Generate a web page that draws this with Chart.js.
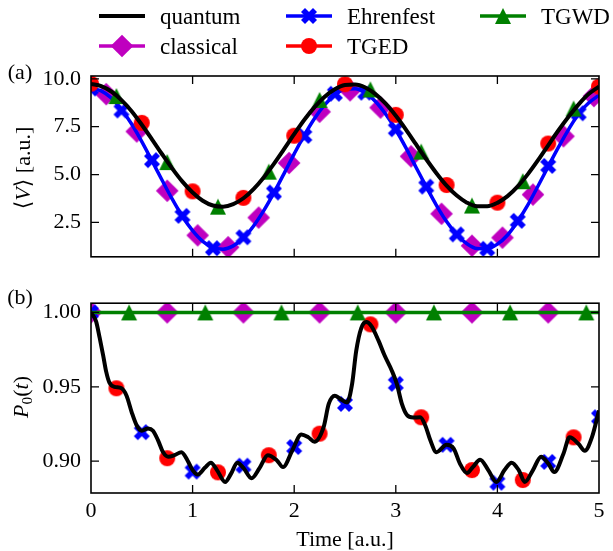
<!DOCTYPE html>
<html>
<head>
<meta charset="utf-8">
<script src="https://cdn.jsdelivr.net/npm/chart.js@4.4.0/dist/chart.umd.min.js"></script>
<style>
  body { margin: 0; background: #fff; }
  #wrap { position: relative; width: 613px; height: 551px; font-family: 'Liberation Serif', 'DejaVu Serif', serif; font-size: 22px; color: #000; }
  canvas.plot { position: absolute; left: 0; }
  .txt { position: absolute; white-space: nowrap; line-height: 1; transform: translate(-50%, -50%); }
  .ylab { position: absolute; white-space: nowrap; line-height: 1; transform: translate(-50%, -50%) rotate(-90deg); }
  .ylab sub { font-size: 70%; vertical-align: -0.25em; }
  .leg { position: absolute; display: flex; align-items: center; height: 24px; white-space: nowrap; line-height: 1; font-size: 23px; }
  .leg canvas { margin-right: 15px; }
</style>
</head>
<body>
<div id="wrap">
  <canvas id="topChart" class="plot" width="613" height="280" style="top:0"></canvas>
  <canvas id="bottomChart" class="plot" width="613" height="271" style="top:280px"></canvas>
  <div id="legend"></div>
  <div class="txt" style="left:20px; top:72px">(a)</div>
  <div class="txt" style="left:20px; top:297px">(b)</div>
  <div class="ylab" style="left:23px; top:168px">⟨<i>V</i>⟩ [a.u.]</div>
  <div class="ylab" style="left:22px; top:397px"><i>P</i><sub>0</sub>(<i>t</i>)</div>
</div>
<script>
// ---- data ----
const timeTicks = [0, 1, 2, 3, 4, 5];
const topYTicks = [2.5, 5.0, 7.5, 10.0];
const bottomYTicks = [0.90, 0.95, 1.00];

// panel (a): <V>
const timeTop = [0.0, 0.1, 0.2, 0.3, 0.4, 0.5, 0.6, 0.7, 0.8, 0.9, 1.0, 1.1, 1.2, 1.3, 1.4, 1.5, 1.6, 1.7,
  1.8, 1.9, 2.0, 2.1, 2.2, 2.3, 2.4, 2.5, 2.6, 2.7, 2.8, 2.9, 3.0, 3.1, 3.2, 3.3, 3.4, 3.5, 3.6, 3.7,
  3.8, 3.9, 4.0, 4.1, 4.2, 4.3, 4.4, 4.5, 4.6, 4.7, 4.8, 4.9, 5.0];
const quantumV = [9.74, 9.62, 9.34, 8.89, 8.31, 7.60, 6.84, 6.06, 5.31, 4.63, 4.06, 3.63, 3.38, 3.32, 3.45, 3.76, 4.24, 4.85,
  5.56, 6.33, 7.11, 7.86, 8.52, 9.07, 9.46, 9.68, 9.71, 9.55, 9.20, 8.70, 8.07, 7.35, 6.57, 5.80, 5.07, 4.42, 3.90, 3.53,
  3.34, 3.34, 3.52, 3.87, 4.38, 5.02, 5.75, 6.53, 7.30, 8.02, 8.67, 9.22, 9.60];
const ehrenfestV = [9.50, 9.37, 9.00, 8.40, 7.64, 6.72, 5.72, 4.70, 3.71, 2.81, 2.07, 1.51, 1.18, 1.10, 1.27, 1.68, 2.31, 3.11,
  4.04, 5.05, 6.08, 7.06, 7.93, 8.64, 9.16, 9.45, 9.48, 9.27, 8.82, 8.16, 7.34, 6.39, 5.37, 4.36, 3.39, 2.54, 1.86, 1.38,
  1.13, 1.12, 1.36, 1.84, 2.56, 3.42, 4.40, 5.42, 6.42, 7.35, 8.18, 8.75, 9.15];

const ehrMarkT = [0.0, 0.3, 0.6, 0.9, 1.2, 1.5, 1.8, 2.1, 2.4, 2.7, 3.0, 3.3, 3.6, 3.9, 4.2, 4.5, 4.8];
const ehrMarkV = [9.50, 8.35, 5.75, 2.84, 1.15, 1.72, 4.06, 7.02, 9.22, 9.28, 7.37, 4.37, 1.87, 1.12, 2.58, 5.45, 8.20];
const classMarkT = [0.15, 0.45, 0.75, 1.05, 1.35, 1.65, 1.95, 2.25, 2.55, 2.85, 3.15, 3.45, 3.75, 4.05, 4.35, 4.65, 4.95];
const classMarkV = [9.20, 7.25, 4.15, 1.82, 1.20, 2.75, 5.60, 8.28, 9.40, 8.50, 5.95, 2.95, 1.28, 1.70, 3.95, 7.00, 9.10];
const tgedMarkT = [0.0, 0.5, 1.0, 1.5, 2.0, 2.5, 3.0, 3.5, 4.0, 4.5, 5.0];
const tgedMarkV = [9.75, 7.70, 4.12, 3.78, 7.03, 9.72, 8.12, 4.45, 3.53, 6.62, 9.60];
const tgwdMarkT = [0.25, 0.75, 1.25, 1.75, 2.25, 2.75, 3.25, 3.75, 4.25, 4.75];
const tgwdMarkV = [9.10, 5.65, 3.32, 5.15, 8.90, 9.45, 6.20, 3.38, 4.65, 8.45];

// panel (b): P0(t)
const timeBottom = [0, 0.05, 0.085, 0.12, 0.15, 0.18, 0.23, 0.30, 0.35, 0.40, 0.45, 0.50, 0.56, 0.61, 0.66, 0.71, 0.76,
  0.82, 0.89, 0.95, 1.00, 1.05, 1.12, 1.18, 1.24, 1.32, 1.38, 1.44, 1.50, 1.58, 1.66, 1.74, 1.83, 1.89, 1.98, 2.07,
  2.14, 2.20, 2.29, 2.34, 2.40, 2.45, 2.52, 2.57, 2.61, 2.66, 2.71, 2.76, 2.83, 2.89, 2.96, 3.01, 3.06, 3.11, 3.17,
  3.24, 3.29, 3.34, 3.40, 3.50, 3.57, 3.63, 3.70, 3.76, 3.83, 3.91, 3.99, 4.07, 4.14, 4.21, 4.27, 4.35, 4.43, 4.50,
  4.56, 4.65, 4.71, 4.80, 4.86, 4.93, 5.00];
const quantumP = [1.000, 0.994, 0.983, 0.971, 0.960, 0.953, 0.950, 0.949, 0.944, 0.933, 0.924, 0.9205, 0.922, 0.9205,
  0.914, 0.906, 0.903, 0.904, 0.906, 0.9005, 0.894, 0.891, 0.8955, 0.899, 0.894, 0.886, 0.8918, 0.899, 0.8955, 0.8885,
  0.8955, 0.904, 0.9005, 0.896, 0.907, 0.918, 0.916, 0.913, 0.923, 0.9385, 0.944, 0.942, 0.9395, 0.952, 0.974, 0.9895,
  0.9935, 0.9908, 0.981, 0.971, 0.961, 0.952, 0.9385, 0.931, 0.9293, 0.9295, 0.924, 0.914, 0.906, 0.911, 0.9085,
  0.8985, 0.892, 0.8962, 0.901, 0.894, 0.886, 0.894, 0.899, 0.894, 0.886, 0.894, 0.903, 0.8985, 0.8927, 0.905, 0.916,
  0.9115, 0.907, 0.916, 0.934];
const ehrMarkTB = [0.0, 0.5, 1.0, 1.5, 2.0, 2.5, 3.0, 3.5, 4.0, 4.5, 5.0];
const ehrMarkPB = [1.000, 0.9195, 0.893, 0.897, 0.9095, 0.9385, 0.952, 0.911, 0.8855, 0.8995, 0.9295];
const tgedMarkTB = [0.25, 0.75, 1.25, 1.75, 2.25, 2.75, 3.25, 3.75, 4.25, 4.75];
const tgedMarkPB = [0.949, 0.902, 0.8925, 0.904, 0.9185, 0.992, 0.9295, 0.894, 0.8873, 0.916];
const classMarkTB = [0.0, 0.75, 1.5, 2.25, 3.0, 3.75, 4.5];
const classMarkPB = [1.0, 1.0, 1.0, 1.0, 1.0, 1.0, 1.0];
const tgwdMarkTB = [0.375, 1.125, 1.875, 2.625, 3.375, 4.125, 4.875];
const tgwdMarkPB = [1.0, 1.0, 1.0, 1.0, 1.0, 1.0, 1.0];
const tgwdLineTB = [0, 5];
const tgwdLinePB = [1.0, 1.0];

// ---- styling ----
const colors = { quantum: '#000000', classical: '#bf00bf', ehrenfest: '#0000ff', tged: '#ff0000', tgwd: '#008000' };
const MS = 16; // marker size in px

function drawMarker(g, kind, cx, cy) {
  g.beginPath();
  if (kind === 'X') {
    const pts = [[0.25,0],[0.5,0.25],[0.75,0],[1,0.25],[0.75,0.5],[1,0.75],[0.75,1],[0.5,0.75],[0.25,1],[0,0.75],[0.25,0.5],[0,0.25]];
    pts.forEach(([u, v], i) => {
      const x = cx + (u - 0.5) * MS, y = cy + (v - 0.5) * MS;
      i ? g.lineTo(x, y) : g.moveTo(x, y);
    });
  } else if (kind === 'tri') {
    g.moveTo(cx, cy - MS / 2);
    g.lineTo(cx + MS / 2, cy + MS / 2);
    g.lineTo(cx - MS / 2, cy + MS / 2);
  } else if (kind === 'circle') {
    g.arc(cx, cy, MS / 2, 0, 2 * Math.PI);
  } else if (kind === 'diamond') {
    const r = MS * Math.SQRT1_2;
    g.moveTo(cx, cy - r); g.lineTo(cx + r, cy); g.lineTo(cx, cy + r); g.lineTo(cx - r, cy);
  }
  g.closePath();
  g.fill();
}

function markerImage(kind, color) {
  const c = document.createElement('canvas');
  c.width = 26; c.height = 26;
  const g = c.getContext('2d');
  g.fillStyle = color;
  drawMarker(g, kind, 13, 13);
  return c;
}

const img = {
  classical: markerImage('diamond', colors.classical),
  ehrenfest: markerImage('X', colors.ehrenfest),
  tged: markerImage('circle', colors.tged),
  tgwd: markerImage('tri', colors.tgwd)
};

const pts = (xs, ys) => xs.map((x, i) => ({ x, y: ys[i] }));

function lineSet(xs, ys, color, width) {
  return {
    data: pts(xs, ys), showLine: true, borderColor: color, borderWidth: width,
    pointRadius: 0, cubicInterpolationMode: 'monotone', clip: 0
  };
}
function markSet(xs, ys, image) {
  return { data: pts(xs, ys), showLine: false, pointStyle: image, pointRadius: 8, clip: 0 };
}

// frame + inward ticks on all four sides, like the original
const frameTicks = {
  id: 'frameTicks',
  afterDatasetsDraw(chart) {
    const { ctx, chartArea: a, scales: { x, y } } = chart;
    ctx.save();
    ctx.strokeStyle = '#000';
    ctx.lineWidth = 1.3;
    ctx.beginPath();
    x.ticks.forEach(t => {
      const px = x.getPixelForValue(t.value);
      if (px <= a.left + 1 || px >= a.right - 1) return;
      ctx.moveTo(px, a.bottom); ctx.lineTo(px, a.bottom - 8);
      ctx.moveTo(px, a.top); ctx.lineTo(px, a.top + 8);
    });
    y.ticks.forEach(t => {
      const py = y.getPixelForValue(t.value);
      if (py <= a.top + 1 || py >= a.bottom - 1) return;
      ctx.moveTo(a.left, py); ctx.lineTo(a.left + 8, py);
      ctx.moveTo(a.right, py); ctx.lineTo(a.right - 8, py);
    });
    ctx.stroke();
    ctx.lineWidth = 1.6;
    ctx.strokeRect(a.left, a.top, a.right - a.left, a.bottom - a.top);
    ctx.restore();
  }
};

Chart.defaults.font.family = "'Liberation Serif', 'DejaVu Serif', serif";
Chart.defaults.font.size = 22;
Chart.defaults.color = '#000';

const baseOptions = (padding, yMin, yMax, yTicks, digits, xLabels, xHeight) => ({
  responsive: false,
  animation: false,
  devicePixelRatio: 1,
  events: [],
  layout: { padding },
  plugins: { legend: { display: false }, tooltip: { enabled: false } },
  scales: {
    x: {
      type: 'linear', min: 0, max: 5,
      afterBuildTicks: s => { s.ticks = timeTicks.map(v => ({ value: v })); },
      ticks: { display: xLabels, padding: 5, callback: v => String(v) },
      grid: { display: false, drawTicks: false },
      border: { display: false },
      title: { display: xLabels, text: 'Time [a.u.]', padding: 0, font: { size: 22, lineHeight: 1 } },
      afterFit: s => { s.height = xHeight; }
    },
    y: {
      type: 'linear', min: yMin, max: yMax,
      afterBuildTicks: s => { s.ticks = yTicks.map(v => ({ value: v })); },
      ticks: { padding: 10, callback: v => v.toFixed(digits) },
      grid: { display: false, drawTicks: false },
      border: { display: false },
      afterFit: s => { s.width = 91; }
    }
  }
});

new Chart(document.getElementById('topChart'), {
  type: 'scatter',
  data: {
    datasets: [
      lineSet(timeTop, quantumV, colors.quantum, 4),
      markSet(tgwdMarkT, tgwdMarkV, img.tgwd),
      markSet(tgedMarkT, tgedMarkV, img.tged),
      markSet(ehrMarkT, ehrMarkV, img.ehrenfest),
      lineSet(timeTop, ehrenfestV, colors.ehrenfest, 3.5),
      markSet(classMarkT, classMarkV, img.classical)
    ]
  },
  options: baseOptions({ top: 76, right: 14, bottom: 15, left: 0 }, 0.7, 10.15, topYTicks, 1, false, 0),
  plugins: [frameTicks]
});

new Chart(document.getElementById('bottomChart'), {
  type: 'scatter',
  data: {
    datasets: [
      lineSet(timeBottom, quantumP, colors.quantum, 4),
      markSet(tgwdMarkTB, tgwdMarkPB, img.tgwd),
      lineSet(tgwdLineTB, tgwdLinePB, colors.tgwd, 3.5),
      markSet(ehrMarkTB, ehrMarkPB, img.ehrenfest),
      markSet(tgedMarkTB, tgedMarkPB, img.tged),
      markSet(classMarkTB, classMarkPB, img.classical)
    ]
  },
  options: baseOptions({ top: 22, right: 14, bottom: 0, left: 0 }, 0.8786, 1.0062, bottomYTicks, 2, true, 58),
  plugins: [frameTicks]
});

// ---- legend (3 columns, matplotlib style handles) ----
const legendItems = [
  { label: 'quantum', color: colors.quantum, marker: null, left: 99, top: 16 },
  { label: 'classical', color: colors.classical, marker: 'diamond', left: 99, top: 46 },
  { label: 'Ehrenfest', color: colors.ehrenfest, marker: 'X', left: 286, top: 16 },
  { label: 'TGED', color: colors.tged, marker: 'circle', left: 286, top: 46 },
  { label: 'TGWD', color: colors.tgwd, marker: 'tri', left: 480, top: 16 }
];
const legend = document.getElementById('legend');
legendItems.forEach(it => {
  const row = document.createElement('div');
  row.className = 'leg';
  row.style.left = it.left + 'px';
  row.style.top = (it.top - 12) + 'px';
  const c = document.createElement('canvas');
  c.width = 46; c.height = 24;
  const g = c.getContext('2d');
  g.strokeStyle = it.color;
  g.lineWidth = it.marker ? 3.5 : 4;
  g.beginPath(); g.moveTo(0, 12); g.lineTo(46, 12); g.stroke();
  if (it.marker) { g.fillStyle = it.color; drawMarker(g, it.marker, 23, 12); }
  row.appendChild(c);
  const span = document.createElement('span');
  span.textContent = it.label;
  row.appendChild(span);
  legend.appendChild(row);
});
</script>
</body>
</html>
